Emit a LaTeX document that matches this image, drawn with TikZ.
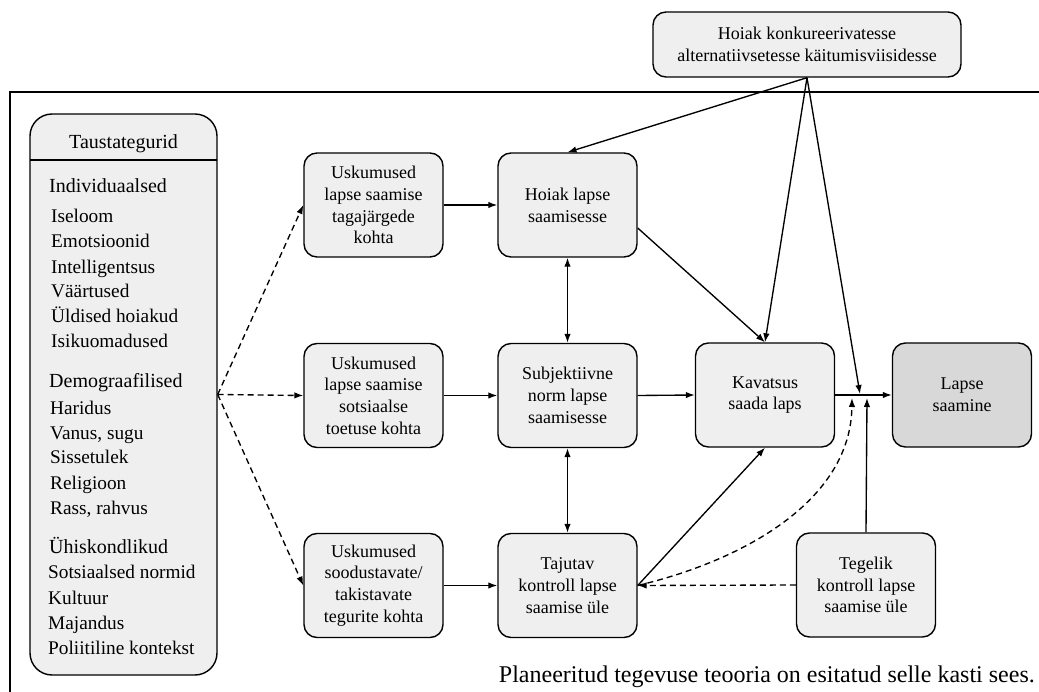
\documentclass[tikz,border=0pt]{standalone}
\usepackage{fontspec}
\setmainfont{Liberation Serif}
\usetikzlibrary{arrows.meta}
\definecolor{boxfill}{HTML}{EFEFEF}
\definecolor{darkfill}{HTML}{D8D8D8}
\begin{document}
\begin{tikzpicture}[x=1pt,y=-1pt,
  box/.style={draw=black, line width=1.4pt, fill=boxfill, rounded corners=13pt,
    minimum width=139pt, minimum height=104pt, align=center, inner sep=0pt,
    font=\fontsize{18}{21.7}\selectfont},
  topbox/.style={box, minimum width=308pt, minimum height=65pt},
  item/.style={anchor=base west, inner sep=0pt, font=\fontsize{19.3}{22}\selectfont},
  head/.style={anchor=base west, inner sep=0pt, font=\fontsize{20}{24}\selectfont},
  arr/.style={line width=1.35pt, -{Latex[length=9pt,width=6.5pt]}},
  darr/.style={arr, dash pattern=on 6pt off 4pt},
  biarr/.style={line width=1.35pt, {Latex[length=9pt,width=6.5pt]}-{Latex[length=9pt,width=6.5pt]}},
  frameline/.style={line width=1.3pt}
]
\useasboundingbox (0,0) rectangle (1039,692);

% outer frame (open to the right and bottom)
\draw[frameline] (1039,92) -- (10,92) -- (10,692);

% top box
\node[topbox] (top) at (807,44.5) {Hoiak konkureerivatesse\\alternatiivsetesse käitumisviisidesse};

% background factors box
\node[draw=black, line width=1.4pt, fill=boxfill, rounded corners=22pt,
  minimum width=187pt, minimum height=561pt, inner sep=0pt] (taust) at (123.5,394.5) {};
\coordinate (hl) at (30,160);
\coordinate (hr) at (217,160);
\draw[line width=1.3pt] (hl) -- (hr);
\node[anchor=base, inner sep=0pt, font=\fontsize{20}{24}\selectfont] (tt) at (123.5,149) {Taustategurid};

\node[head] (h1) at (49,193) {Individuaalsed};
\node[item] (i1) at (51,223) {Iseloom};
\node[item] (i2) at (51,248) {Emotsioonid};
\node[item] (i3) at (51,274) {Intelligentsus};
\node[item] (i4) at (51,298) {Väärtused};
\node[item] (i5) at (51,323) {Üldised hoiakud};
\node[item] (i6) at (51,348) {Isikuomadused};

\node[head] (h2) at (49,388) {Demograafilised};
\node[item] (d1) at (50,414) {Haridus};
\node[item] (d2) at (50,439) {Vanus, sugu};
\node[item] (d3) at (50,464) {Sissetulek};
\node[item] (d4) at (50,489) {Religioon};
\node[item] (d5) at (50,514) {Rass, rahvus};

\node[head] (h3) at (49,553) {Ühiskondlikud};
\node[item] (s1) at (48,578) {Sotsiaalsed normid};
\node[item] (s2) at (48,604) {Kultuur};
\node[item] (s3) at (48,629) {Majandus};
\node[item] (s4) at (48,654) {Poliitiline kontekst};

% belief boxes
\node[box] (usk1) at (373.5,205) {Uskumused\\lapse saamise\\tagajärgede\\kohta};
\node[box] (usk2) at (373.5,395.5) {Uskumused\\lapse saamise\\sotsiaalse\\toetuse kohta};
\node[box] (usk3) at (373.5,585.5) {Uskumused\\soodustavate/\\takistavate\\tegurite kohta};

% TPB core boxes
\node[box] (hoiak) at (567.5,205) {Hoiak lapse\\saamisesse};
\node[box] (subj) at (567.5,395.5) {Subjektiivne\\norm lapse\\saamisesse};
\node[box] (taj) at (567.5,585.5) {Tajutav\\kontroll lapse\\saamise üle};
\node[box] (kav) at (765,395) {Kavatsus\\saada laps};
\node[box, fill=darkfill] (lapse) at (962,395) {Lapse\\saamine};
\node[box] (teg) at (866,585) {Tegelik\\kontroll lapse\\saamise üle};

% junction points on the intention-behaviour line
\coordinate (jA) at (852,398);
\coordinate (jB) at (860,394);
\coordinate (jC) at (867,398);

% dashed arrows from background factors
\draw[darr] (taust.east) -- (usk1.west);
\draw[darr] (taust.east) -- (usk2.west);
\draw[darr] (taust.east) -- (usk3.west);

% belief -> construct
\draw[arr] (usk1.east) -- (hoiak.west);
\draw[arr] (usk2.east) -- (subj.west);
\draw[arr] (usk3.east) -- (taj.west);

% correlations
\draw[biarr] (hoiak.south) -- (subj.north);
\draw[biarr] (subj.south) -- (taj.north);

% to intention
\draw[arr] ([yshift=-23pt]hoiak.east) -- (kav.north);
\draw[arr] (subj.east) -- (kav.west);
\draw[arr] (taj.east) -- (kav.south);

% intention -> behaviour
\draw[arr] (kav.east) -- (lapse.west);

% from the top box
\draw[arr] (top.south) -- (hoiak.north);
\draw[arr] (top.south) -- (kav.north);
\draw[arr] (top.south) -- (jB);

% control
\draw[darr] (taj.east) .. controls (745,560) and (851,500) .. (jA);
\draw[darr] (teg.west) -- (taj.east);
\draw[arr] (teg.north) -- (jC);

% caption
\node[anchor=base east, inner sep=0pt, font=\fontsize{24}{27}\selectfont] (cap) at (1035,682)
  {Planeeritud tegevuse teooria on esitatud selle kasti sees.};
\end{tikzpicture}
\end{document}
